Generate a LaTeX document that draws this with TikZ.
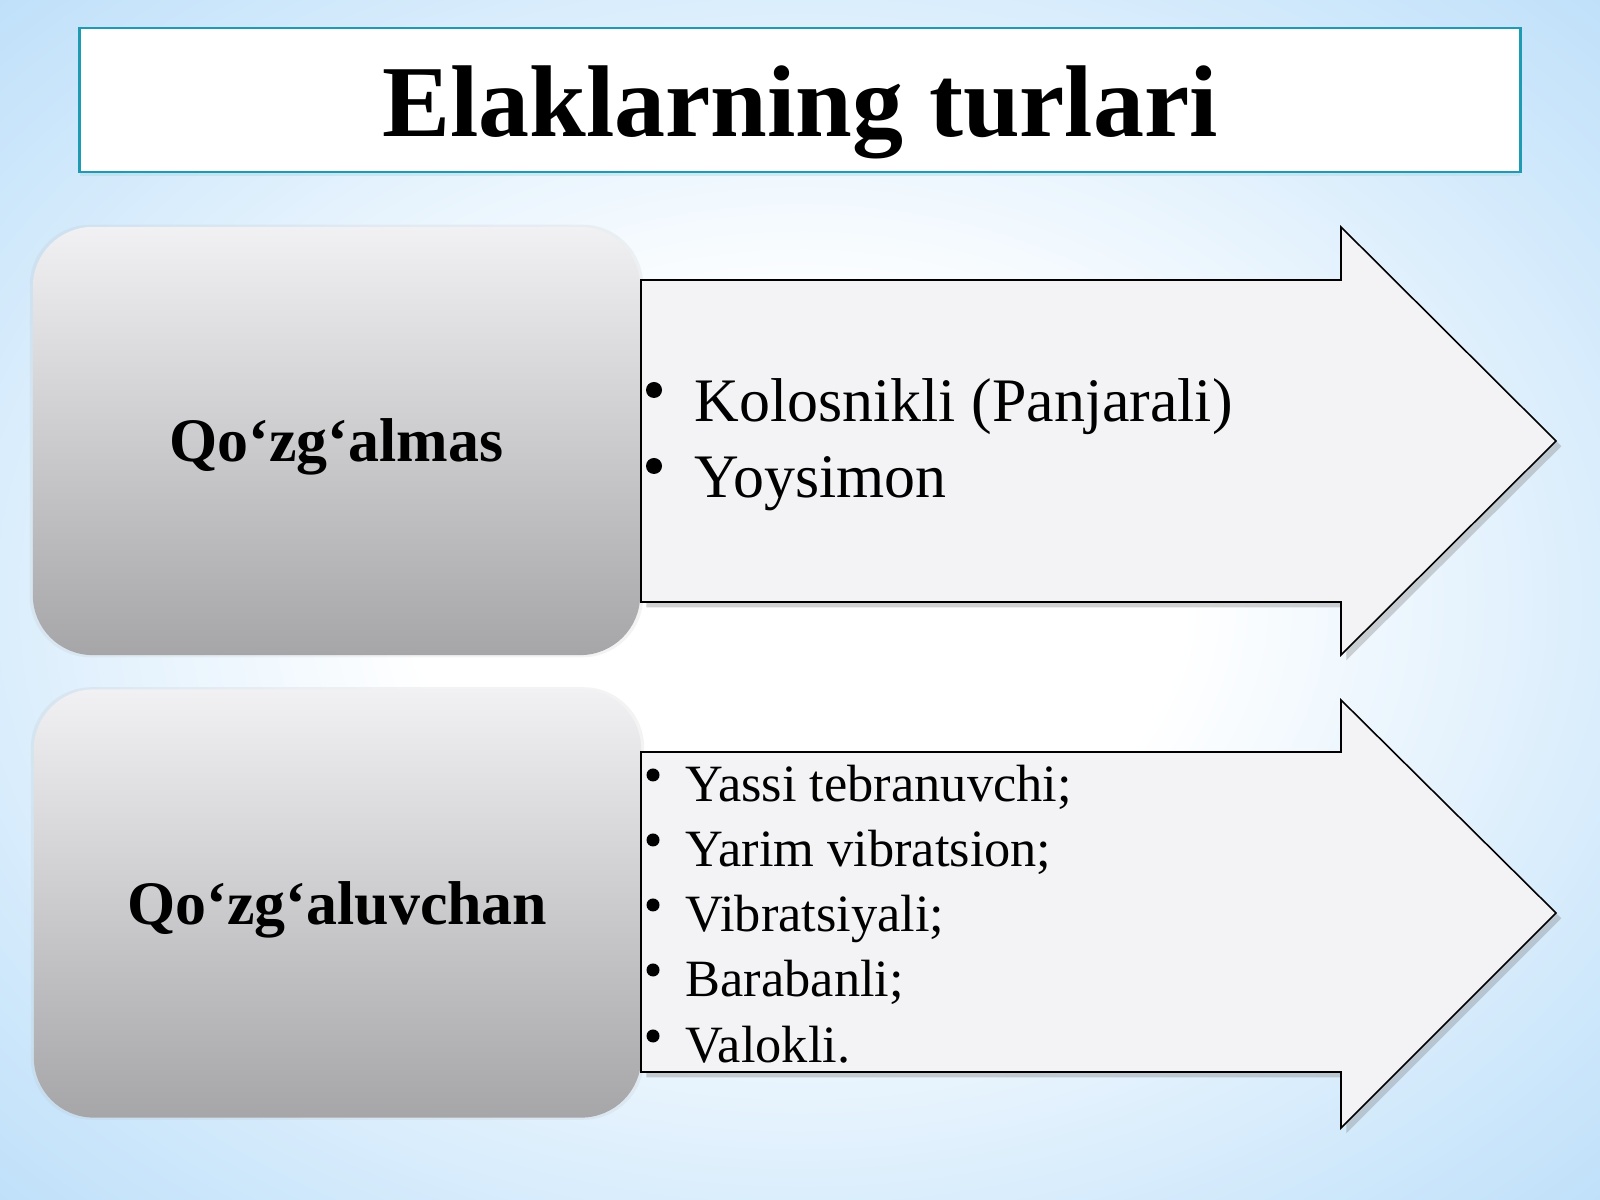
\documentclass[tikz,border=0pt]{standalone}
\usepackage{fontspec}
\setmainfont{Liberation Serif}
\usetikzlibrary{shadows}

\definecolor{bgblue}{RGB}{150,203,245}
\definecolor{bgmid}{RGB}{205,231,251}
\definecolor{frame}{RGB}{30,155,178}
\definecolor{boxtop}{RGB}{241,240,243}
\definecolor{boxbot}{RGB}{166,166,169}
\definecolor{arrowfill}{RGB}{243,243,246}

\pgfdeclareradialshading{sky}{\pgfpoint{0bp}{0bp}}{color(0bp)=(white); color(12bp)=(white); color(30bp)=(bgmid); color(46bp)=(bgblue!85!white); color(62bp)=(bgblue); color(75bp)=(bgblue)}

\newcommand\upfont{\fontsize{17.6}{21}\selectfont}
\newcommand\lowfont{\fontsize{14.9}{18}\selectfont}

\tikzset{
  titlebox/.style={draw=frame, line width=0.8pt, fill=white, inner sep=0pt,
    minimum width=14.4cm, minimum height=1.44cm, text height=0.72cm, text depth=0pt,
    drop shadow={fill=frame!40, opacity=.4, shadow xshift=0pt, shadow yshift=-1pt},
    font=\fontsize{29}{34}\selectfont\bfseries},
  kindbox/.style={rounded corners=0.6cm, top color=boxtop, bottom color=boxbot, inner sep=0pt,
    minimum width=6.07cm, minimum height=4.28cm, text height=0.41cm, text depth=0pt,
    general shadow={fill=gray!60, opacity=.15, shadow scale=1.01},
    font=\fontsize{17.6}{20}\selectfont\bfseries},
  bigarrow/.style={draw=black, line width=0.45pt, fill=arrowfill,
    drop shadow={fill=gray, opacity=.35, shadow xshift=1.5pt, shadow yshift=-1.5pt}},
  item/.style={anchor=base west, inner sep=0pt},
  bulletdot/.style={circle, fill=black, inner sep=0pt, minimum size=#1},
}

\begin{document}
\begin{tikzpicture}[x=0.01cm, y=0.01cm]
% Background
\useasboundingbox (0,0) rectangle (1600,1200);
\shade[shading=sky] (0,0) rectangle (1600,1200);
% Title
\node[titlebox] (title) at (800,1100) {Elaklarning turlari};
% Kinds
\node[kindbox] (fixed)  at (336.5,759)   {Qo‘zg‘almas};
\node[kindbox] (moving) at (337.5,296.5) {Qo‘zg‘aluvchan};
% Arrows
\draw[bigarrow] (641,920) -- (1341,920) -- (1341,973) -- (1556,759)
      -- (1341,545) -- (1341,598) -- (641,598) -- cycle;
\draw[bigarrow] (641,448) -- (1341,448) -- (1341,500) -- (1556,287)
      -- (1341,72) -- (1341,128) -- (641,128) -- cycle;
% Upper list
\node[item, font=\upfont] (kolos) at (694,778) {Kolosnikli (Panjarali)};
\node[item, font=\upfont] (yoys)  at (694,702) {Yoysimon};
\node[bulletdot=0.16cm] (b1) at ([shift={(-40,32)}]kolos.base west) {};
\node[bulletdot=0.16cm] (b2) at ([shift={(-40,32)}]yoys.base west) {};
% Lower list
\node[item, font=\lowfont] (yassi) at (685,398) {Yassi tebranuvchi;};
\node[item, font=\lowfont] (yarim) at (685,333) {Yarim vibratsion;};
\node[item, font=\lowfont] (vibra) at (685,268) {Vibratsiyali;};
\node[item, font=\lowfont] (barab) at (685,203) {Barabanli;};
\node[item, font=\lowfont] (valok) at (685,137) {Valokli.};
\node[bulletdot=0.13cm] (b3) at ([shift={(-32,27)}]yassi.base west) {};
\node[bulletdot=0.13cm] (b4) at ([shift={(-32,27)}]yarim.base west) {};
\node[bulletdot=0.13cm] (b5) at ([shift={(-32,27)}]vibra.base west) {};
\node[bulletdot=0.13cm] (b6) at ([shift={(-32,27)}]barab.base west) {};
\node[bulletdot=0.13cm] (b7) at ([shift={(-32,27)}]valok.base west) {};
\end{tikzpicture}
\end{document}
